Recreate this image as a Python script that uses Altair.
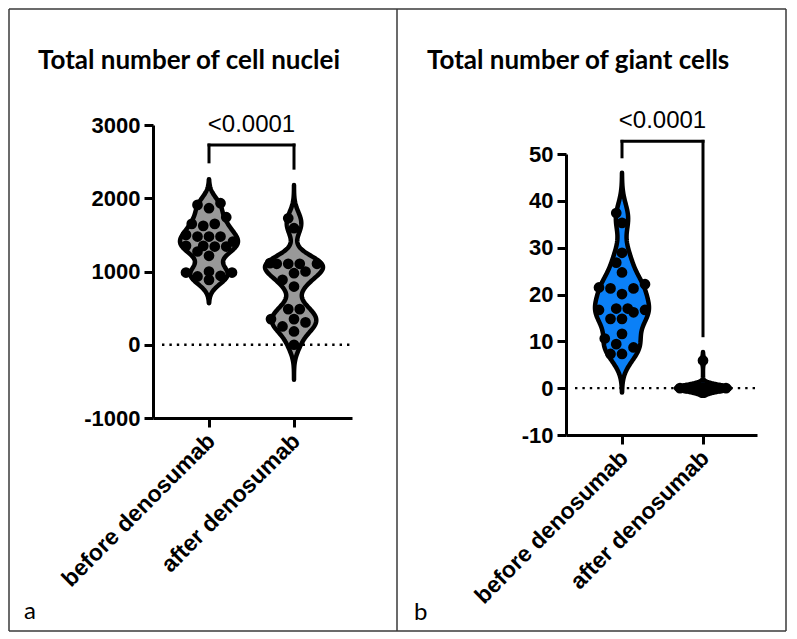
import altair as alt
import pandas as pd
import numpy as np

# ---------------- data ----------------
categories = ["before denosumab", "after denosumab"]
panel_titles = ["Total number of cell nuclei", "Total number of giant cells"]
panel_letters = ["a", "b"]
p_label = "<0.0001"

nuclei_before = [1909, 1932, 1864, 1741, 1623, 1650, 1650, 1500, 1477, 1477, 1477,
                 1409, 1341, 1341, 1350, 1350, 1273, 1214, 932, 986, 941, 986, 1000, 886]
nuclei_after = [1727, 1591, 1114, 1105, 1105, 1105, 1105, 1000, 977, 886, 795,
                486, 486, 305, 350, 350, 250, 182, 0]
giant_before = [37.4, 35.3, 28.9, 26.8, 24.7, 21.3, 21.3, 22.2, 20.1, 21.5, 16.7,
                16.7, 17.0, 17.0, 16.2, 14.8, 14.8, 10.6, 11.6, 9.4, 8.7, 7.3, 7.3]
giant_after = [0, 0, 0, 0, 0, 0, 0, 0, 0, 0, 0, 0, 0, 0, 0, 0, 0, 0, 0, 0, 0, 0, 5.9]

# violin kernel bandwidths and extents (per group)
nuclei_bw = [120, 130]
nuclei_extent = [[568, 2259], [-477, 2182]]
giant_bw = [2.8, 0.7]
giant_extent = [[-0.9, 46], [-1.6, 7.7]]

# significance bracket: top, left leg end, right leg end ; p-label height
nuclei_bracket = [2726, 2497, 2411]
nuclei_p_y = 2908
giant_bracket = [52.7, 49.4, 11.2]
giant_p_y = 55.5

nuclei_ticks = [-1000, 0, 1000, 2000, 3000]
giant_ticks = [-10, 0, 10, 20, 30, 40, 50]

# ---------------- helpers ----------------
AXIS_FONT = "Arial"
TITLE_FONT = "Lato"


def swarm(values, px_per_unit, d=11.5, limit=24.0):
    vals = np.asarray(values, dtype=float)
    order = np.argsort(vals, kind="stable")
    n = int(limit // (d / 2))
    cands = sorted([k * d / 2 for k in range(-n, n + 1)], key=abs)
    if abs(cands[-1]) < limit:
        cands += [-limit, limit]
    placed = []
    offs = np.zeros(len(vals))
    for i in order:
        y = vals[i] * px_per_unit
        best = None
        for c in cands:
            if all((c - px) ** 2 + (y - py) ** 2 >= (0.95 * d) ** 2 for py, px in placed):
                best = c
                break
        if best is None:
            best = max(cands, key=lambda c: (min((c - px) ** 2 + (y - py) ** 2 for py, px in placed), -abs(c)))
        placed.append((y, best))
        offs[i] = best
    return offs


def label_expr():
    return "datum.value == 1 ? '%s' : '%s'" % (categories[0], categories[1])


def make_panel(before, after, bws, extents, bracket, p_y, ticks, ydomain, yrange,
               width, height, px_per_x, px_per_y, fill, title, letter, title_xy, letter_xy,
               half_px, border=None, limits=(24, 24)):
    xdomain_left = 1 - 56.0 / px_per_x
    xdomain = [xdomain_left, xdomain_left + width / px_per_x]
    xs = alt.Scale(domain=xdomain, nice=False, zero=False)
    ys = alt.Scale(domain=ydomain, range=yrange, nice=False, zero=False)
    xaxis = alt.Axis(values=[1, 2], labelExpr=label_expr(), title=None, grid=False,
                     domainColor="black", domainWidth=3, tickColor="black", tickWidth=3,
                     tickSize=9, labelFont=AXIS_FONT, labelFontWeight="bold", labelFontSize=23,
                     labelColor="black", labelAngle=-45, labelAlign="right",
                     labelBaseline="middle", labelPadding=10, labelOffset=2, labelOverlap=False,
                     labelFlush=False, labelLimit=400)
    yaxis = alt.Axis(values=ticks, labelExpr="datum.value + ''", title=None, grid=False,
                     domainColor="black", domainWidth=3, tickColor="black", tickWidth=3,
                     tickSize=9, labelFont=AXIS_FONT, labelFontWeight="bold", labelFontSize=22,
                     labelColor="black", labelPadding=4, labelOverlap=False, labelFlush=False,
                     labelLimit=400)

    def X(f, **kw):
        return alt.X(f, scale=xs, axis=xaxis, title=None, **kw)

    def Y(f, **kw):
        return alt.Y(f, scale=ys, axis=yaxis, title=None, **kw)

    pts = []
    for g, vals in enumerate([before, after], start=1):
        offs = swarm(vals, px_per_y, limit=limits[g - 1])
        for v, o in zip(vals, offs):
            pts.append({"group": g, "value": v, "xpos": g + o / px_per_x})
    pts = pd.DataFrame(pts)

    half = half_px / px_per_x
    layers = []

    zero = pd.DataFrame({"z": [0]})
    layers.append(alt.Chart(zero).mark_rule(color="black", strokeWidth=2.4, strokeDash=[2.4, 5])
                  .encode(y=Y("z:Q"), x=alt.value(9), x2=alt.value(width)))

    for g in (1, 2):
        v = (alt.Chart(pts)
             .transform_filter(alt.datum.group == g)
             .transform_density("value", bandwidth=bws[g - 1], extent=extents[g - 1],
                                steps=240, as_=["v", "d"])
             .transform_joinaggregate(maxd="max(d)")
             .transform_calculate(xl="%d - datum.d / datum.maxd * %f" % (g, half),
                                  xr="%d + datum.d / datum.maxd * %f" % (g, half))
             .mark_area(orient="horizontal", color=fill, stroke="black", strokeWidth=4.5,
                        strokeJoin="round", opacity=1)
             .encode(y=Y("v:Q"), x=X("xl:Q"), x2="xr:Q"))
        layers.append(v)

    layers.append(alt.Chart(pts).mark_circle(size=115, color="black", opacity=1)
                  .encode(x=X("xpos:Q"), y=Y("value:Q")))

    top, lend, rend = bracket
    br = pd.DataFrame({"x": [1, 1, 2], "x2": [2, 1, 2], "y": [top, top, top],
                       "y2": [top, lend, rend]})
    layers.append(alt.Chart(br).mark_rule(color="black", strokeWidth=3, strokeCap="square")
                  .encode(x=X("x:Q"), x2="x2:Q", y=Y("y:Q"), y2="y2:Q"))
    pl = pd.DataFrame({"x": [1.5], "y": [p_y], "t": [p_label]})
    layers.append(alt.Chart(pl).mark_text(font=AXIS_FONT, fontSize=24, color="black",
                                          baseline="alphabetic", align="center")
                  .encode(x=X("x:Q"), y=Y("y:Q"), text="t:N"))

    one = pd.DataFrame({"k": [0]})
    layers.append(alt.Chart(one).mark_text(font=TITLE_FONT, fontWeight="bold", fontSize=26,
                                           color="black", align="left", baseline="alphabetic")
                  .encode(x=alt.value(title_xy[0]), y=alt.value(title_xy[1]), text=alt.value(title)))
    layers.append(alt.Chart(one).mark_text(font=TITLE_FONT, fontSize=24, color="black",
                                           align="left", baseline="alphabetic")
                  .encode(x=alt.value(letter_xy[0]), y=alt.value(letter_xy[1]), text=alt.value(letter)))

    if border is not None:
        L, T, R, B, D = border
        segs = [(L, L, T, B), (L, R, T, T), (R, R, T, B), (L, R, B, B), (D, D, T, B)]
        for (x1, x2, y1, y2) in segs:
            layers.append(alt.Chart(one).mark_rule(color="#3a3a3a", strokeWidth=1.5)
                          .encode(x=alt.value(x1), x2=alt.value(x2), y=alt.value(y1), y2=alt.value(y2)))

    return alt.layer(*layers).properties(width=width, height=height)


panel_a = make_panel(nuclei_before, nuclei_after, nuclei_bw, nuclei_extent, nuclei_bracket,
                     nuclei_p_y, nuclei_ticks, [-1000, 3000], [293, 0], 199, 293,
                     85.0, 293 / 4000.0, "#999999", panel_titles[0], panel_letters[0],
                     (-115, -56), (-129, 494), 29.0, border=(-144, -116, 633, 506, 244))
panel_b = make_panel(giant_before, giant_after, giant_bw, giant_extent, giant_bracket,
                     giant_p_y, giant_ticks, [-10, 50], [310, 29], 191, 310,
                     81.0, 281 / 60.0, "#0b80f7", panel_titles[1], panel_letters[1],
                     (-139, -56), (-152, 495), 27.0, limits=(24, 23))

chart = alt.HConcatChart(hconcat=[panel_a, panel_b], spacing=214, bounds="flush",
                         padding=0).configure_view(stroke=None)

chart.save("out.html", embed_options={"renderer": "svg", "actions": False})
